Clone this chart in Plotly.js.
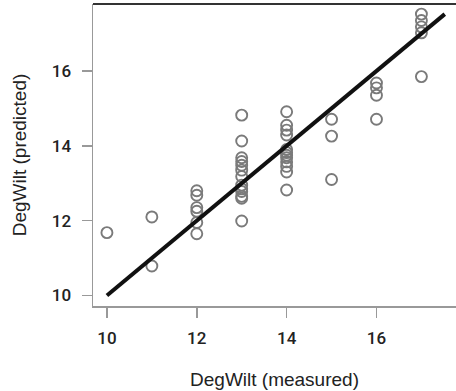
<!DOCTYPE html>
<html>
<head>
<meta charset="utf-8">
<script src="https://cdn.plot.ly/plotly-3.0.1.min.js"></script>
<style>html,body{margin:0;padding:0;background:#fff;}#chart{width:456px;height:391px;}</style>
</head>
<body>
<div id="chart"></div>
<script>
// Measured vs predicted DegWilt
const measured = [
  10,
  11, 11,
  12, 12, 12, 12, 12, 12,
  13, 13, 13, 13, 13, 13, 13, 13, 13, 13, 13, 13, 13,
  14, 14, 14, 14, 14, 14, 14, 14, 14, 14, 14, 14,
  15, 15, 15,
  16, 16, 16, 16,
  17, 17, 17, 17, 17
];
const predicted = [
  11.68,
  12.10, 10.79,
  12.80, 12.68, 12.35, 12.25, 11.95, 11.65,
  14.82, 14.13, 13.68, 13.58, 13.48, 13.35, 13.18, 12.95, 12.85, 12.78, 12.65, 12.60, 11.99,
  14.91, 14.55, 14.42, 14.29, 13.90, 13.82, 13.75, 13.68, 13.57, 13.45, 13.30, 12.82,
  14.71, 14.26, 13.10,
  15.68, 15.55, 15.35, 14.71,
  17.52, 17.35, 17.18, 17.02, 15.85
];
const fitX = [10, 17.52];
const fitY = [10, 17.52];
const xTicks = [10, 12, 14, 16];
const yTicks = [10, 12, 14, 16];

const fam = 'Roboto, Liberation Sans, Arial, sans-serif';
const titleFam = 'Liberation Sans, Arial, sans-serif';

const traces = [
  {
    x: measured, y: predicted, type: 'scatter', mode: 'markers',
    marker: {symbol: 'circle-open', size: 11, color: '#7a7a7a', line: {width: 1.9, color: '#7a7a7a'}},
    hoverinfo: 'none', cliponaxis: false
  },
  {
    x: fitX, y: fitY, type: 'scatter', mode: 'lines',
    line: {color: '#111', width: 4}, hoverinfo: 'none'
  }
];

const layout = {
  width: 456, height: 391,
  margin: {l: 93, r: 0, t: 4, b: 85},
  paper_bgcolor: '#fff', plot_bgcolor: '#fff',
  showlegend: false,
  font: {family: fam, color: '#222'},
  xaxis: {
    range: [9.69, 17.77], tickvals: xTicks, ticktext: xTicks.map(String),
    showgrid: false, zeroline: false,
    showline: true, linecolor: '#999', linewidth: 1.5,
    ticks: 'outside', ticklen: 10, tickwidth: 1.5, tickcolor: '#999',
    tickfont: {size: 17, family: fam, color: '#222', weight: 500},
    ticklabelstandoff: 6,
    title: {text: 'DegWilt (measured)', font: {size: 19, family: titleFam, color: '#222'}, standoff: 26}
  },
  yaxis: {
    range: [9.72, 17.79], tickvals: yTicks, ticktext: yTicks.map(String),
    showgrid: false, zeroline: false,
    showline: true, linecolor: '#999', linewidth: 1.5,
    ticks: 'outside', ticklen: 10, tickwidth: 1.5, tickcolor: '#999',
    tickfont: {size: 17, family: fam, color: '#222', weight: 500},
    ticklabelstandoff: 7,
    title: {text: 'DegWilt (predicted)', font: {size: 19, family: titleFam, color: '#222'}, standoff: 20}
  },
  shapes: [
    {type: 'line', xref: 'paper', yref: 'paper', x0: 0, x1: 1, y0: 1, y1: 1, line: {color: '#333', width: 2}}
  ]
};

Plotly.newPlot('chart', traces, layout, {staticPlot: true, displayModeBar: false});
</script>
</body>
</html>
